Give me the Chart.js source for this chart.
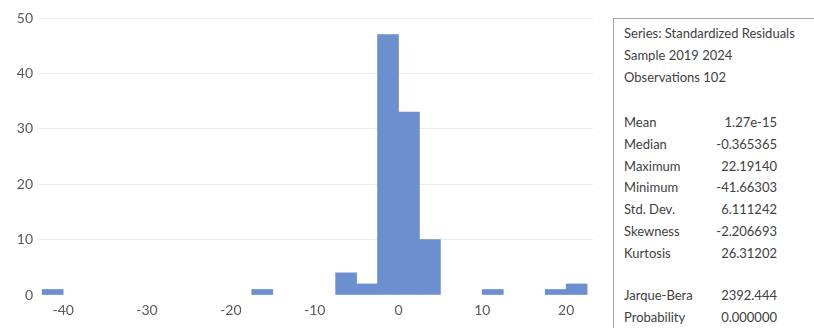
<!DOCTYPE html>
<html>
<head>
<meta charset="utf-8">
<script src="https://cdn.jsdelivr.net/npm/chart.js@4/dist/chart.umd.min.js"></script>
<style>
  html, body { margin: 0; padding: 0; background: #fff; overflow: hidden; }
  #wrap { position: relative; width: 814px; height: 328px; }
  #chartBox { position: absolute; left: 0; top: 0; width: 600px; height: 328px; }
  #stats {
    position: absolute; left: 613px; top: 18px; width: 230px; height: 330px;
    border: 1px solid #a6a6a6; box-sizing: border-box; background: #fff;
    font-family: Lato, "Open Sans", sans-serif; font-size: 13px; color: #404040;
  }
  #stats .row { position: absolute; left: 10px; white-space: nowrap; }
  #stats .val { position: absolute; right: 65px; white-space: nowrap; text-align: right; }
</style>
</head>
<body>
<div id="wrap">
  <div id="chartBox"><canvas id="hist"></canvas></div>
  <div id="stats"></div>
</div>
<script>
// Histogram of standardized residuals: bin width 2.5, bins given by their lower edge
const binWidth = 2.5;
const binStarts = [-42.5, -17.5, -7.5, -5, -2.5, 0, 2.5, 10, 17.5, 20];
const binCounts = [1, 1, 4, 2, 47, 33, 10, 1, 1, 2];
const xTicks = [-40, -30, -20, -10, 0, 10, 20];
const yTicks = [0, 10, 20, 30, 40, 50];

// Descriptive statistics panel
const headerLines = ['Series: Standardized Residuals', 'Sample 2019 2024', 'Observations 102'];
const statNames = ['Mean', 'Median', 'Maximum', 'Minimum', 'Std. Dev.', 'Skewness', 'Kurtosis'];
const statValues = ['1.27e-15', '-0.365365', '22.19140', '-41.66303', '6.111242', '-2.206693', '26.31202'];
const testNames = ['Jarque-Bera', 'Probability'];
const testValues = ['2392.444', '0.000000'];

const points = binStarts.map((s, i) => ({ x: s + binWidth / 2, y: binCounts[i] }));

new Chart(document.getElementById('hist'), {
  type: 'bar',
  data: {
    datasets: [{
      data: points,
      backgroundColor: '#6b8fcf',
      borderWidth: 0,
      barPercentage: 1,
      categoryPercentage: 1
    }]
  },
  options: {
    responsive: true,
    maintainAspectRatio: false,
    animation: false,
    layout: { padding: { top: 18, right: 7, left: 0, bottom: 0 } },
    plugins: { legend: { display: false }, tooltip: { enabled: false } },
    scales: {
      x: {
        type: 'linear',
        offset: false,
        min: -43,
        max: 23.2,
        afterBuildTicks: (s) => { s.ticks = xTicks.map(v => ({ value: v })); },
        afterFit: (s) => { s.height = 33; },
        grid: { display: false, drawTicks: false },
        border: { display: false },
        ticks: {
          padding: 7,
          color: '#595959',
          font: { family: 'Lato, "Open Sans", sans-serif', size: 14 },
          callback: (v) => String(v)
        }
      },
      y: {
        min: 0,
        max: 50,
        afterBuildTicks: (s) => { s.ticks = yTicks.map(v => ({ value: v })); },
        afterFit: (s) => { s.width = 38; },
        grid: {
          drawTicks: false,
          color: (c) => (c.tick && c.tick.value === 0) ? 'rgba(0,0,0,0)' : '#ececec',
          lineWidth: 1
        },
        border: { display: false },
        ticks: {
          padding: 5,
          color: '#595959',
          font: { family: 'Lato, "Open Sans", sans-serif', size: 14 }
        }
      }
    }
  }
});

// Fill in the statistics panel
const stats = document.getElementById('stats');
function addRow(text, top, valueText) {
  const r = document.createElement('div');
  r.className = 'row';
  r.style.top = top + 'px';
  r.textContent = text;
  stats.appendChild(r);
  if (valueText !== undefined) {
    const v = document.createElement('div');
    v.className = 'val';
    v.style.top = top + 'px';
    v.textContent = valueText;
    stats.appendChild(v);
  }
}
headerLines.forEach((t, i) => addRow(t, 6 + i * 21.8));
statNames.forEach((t, i) => addRow(t, 95 + i * 21.8, statValues[i]));
testNames.forEach((t, i) => addRow(t, 268 + i * 21.8, testValues[i]));
</script>
</body>
</html>
